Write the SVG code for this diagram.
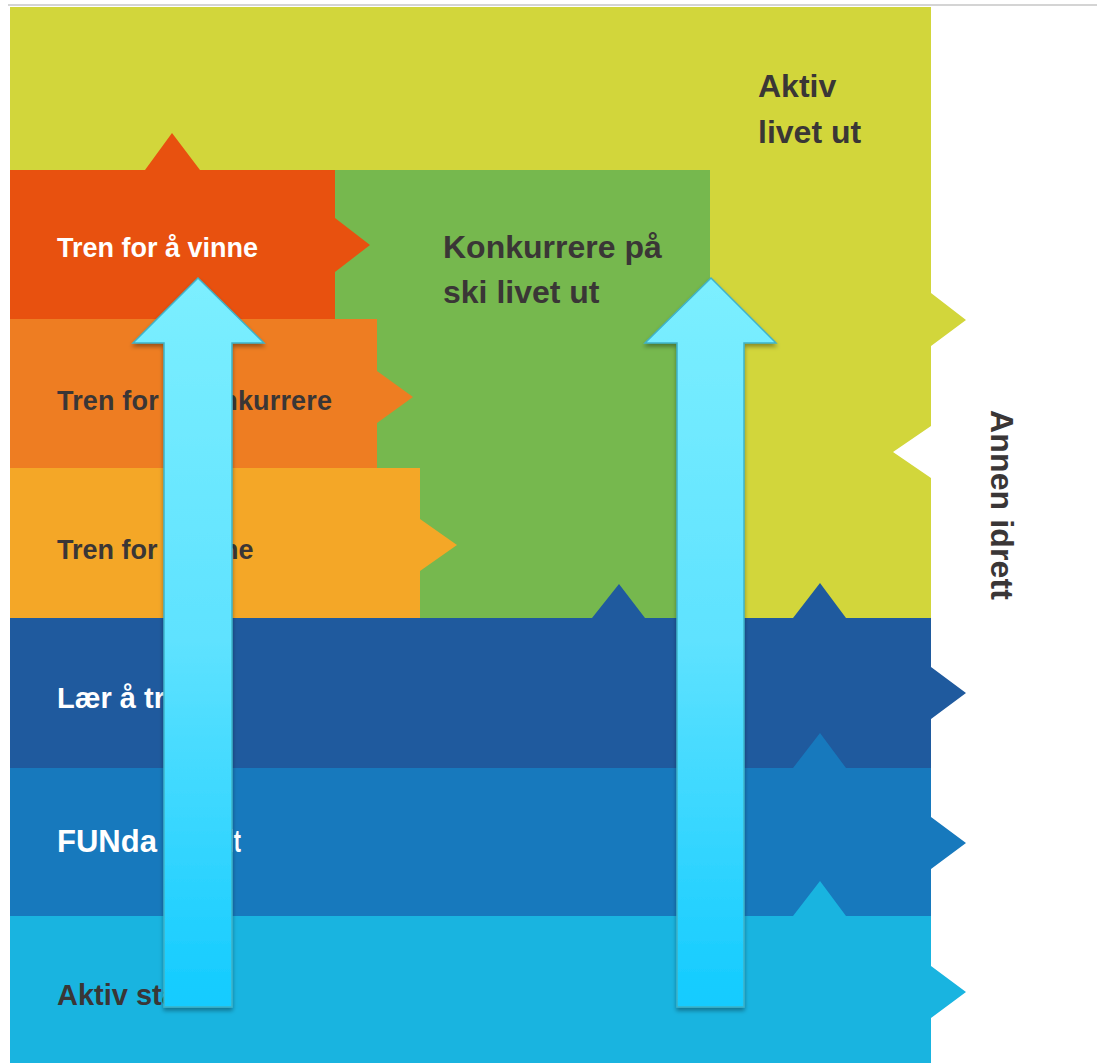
<svg xmlns="http://www.w3.org/2000/svg" width="1097" height="1063" viewBox="0 0 1097 1063">
<style>
.lbl{font-family:"Liberation Sans",Arial,sans-serif;font-weight:bold;font-size:27px}
.lbl2{font-family:"Liberation Sans",Arial,sans-serif;font-weight:bold;font-size:29px}
.big{font-family:"Liberation Sans",Arial,sans-serif;font-weight:bold;font-size:32px;fill:#3a3636}
.w{fill:#ffffff}
.d{fill:#3a3636}
.arrow{fill:url(#ag);stroke:#3fb2c8;stroke-width:1.5;stroke-linejoin:miter;filter:url(#sh)}
</style>
<defs>
<linearGradient id="ag" x1="0" y1="0" x2="0" y2="1">
<stop offset="0" stop-color="#7CEFFF"/>
<stop offset="0.5" stop-color="#5EE2FF"/>
<stop offset="1" stop-color="#12CBFF"/>
</linearGradient>
<filter id="sh" x="-20%" y="-5%" width="140%" height="110%">
<feDropShadow dx="0" dy="3" stdDeviation="2" flood-color="#000" flood-opacity="0.35"/>
</filter>
</defs>
<rect width="1097" height="1063" fill="#ffffff"/>
<line x1="8" y1="5" x2="1097" y2="5" stroke="#d4d4d4" stroke-width="2"/>

<g id="aktiv-livet-ut">
<path d="M10,7 H931 V293 L966,320 L931,346 V426 L893,452 L931,478 V618 H10 Z" fill="#D2D63B"/>
<text class="big" x="758" y="97">Aktiv</text>
<text class="big" x="758" y="143">livet ut</text>
</g>

<g id="konkurrere">
<rect x="335" y="170" width="375" height="448" fill="#76B84E"/>
<text class="big" x="443" y="258">Konkurrere på</text>
<text class="big" x="443" y="303">ski livet ut</text>
</g>

<g id="tren-for-a-vinne">
<path d="M10,170 H145 L172,133 L200,170 H335 V218 L370,245 L335,272 V320 H10 Z" fill="#E8510F"/>
<text class="lbl w" x="57" y="257" textLength="201">Tren for å vinne</text>
</g>

<g id="tren-for-a-konkurrere">
<path d="M10,319 H377 V371 L413,397 L377,423 V468 H10 Z" fill="#EE7D22"/>
<text class="lbl d" x="57" y="410" textLength="275">Tren for å konkurrere</text>
</g>

<g id="tren-for-a-trene">
<path d="M10,468 H420 V519 L457,545 L420,571 V618 H10 Z" fill="#F4A727"/>
<text class="lbl d" x="57" y="559">Tren for å trene</text>
</g>

<g id="laer-a-trene">
<path d="M10,618 H592 L619,584 L645,618 H793 L820,583 L846,618 H931 V667 L966,693 L931,719 V768 H10 Z" fill="#1F5A9E"/>
<text class="lbl2 w" x="57" y="708">Lær å trene</text>
</g>

<g id="fundamentalt">
<path d="M10,768 H793 L820,733 L846,768 H931 V817 L966,843 L931,869 V916 H10 Z" fill="#1779BD"/>
<text class="lbl2 w" x="57" y="852" style="font-size:31px">FUNda<tspan x="164" textLength="77" lengthAdjust="spacingAndGlyphs">mentalt</tspan></text>
</g>

<g id="aktiv-start">
<path d="M10,916 H793 L820,881 L846,916 H931 V966 L966,992 L931,1018 V1063 H10 Z" fill="#19B4E0"/>
<text class="lbl2 d" x="57" y="1005">Aktiv start</text>
</g>

<g id="annen-idrett">
<text class="big" transform="translate(991,410) rotate(90)" textLength="190">Annen idrett</text>
</g>

<g id="connectors">
<path class="arrow" d="M198,278 L264,343 H232 V1007 H164 V343 H133 Z"/>
<path class="arrow" d="M711,278 L776,343 H744 V1007 H677 V343 H645 Z"/>
</g>
</svg>
